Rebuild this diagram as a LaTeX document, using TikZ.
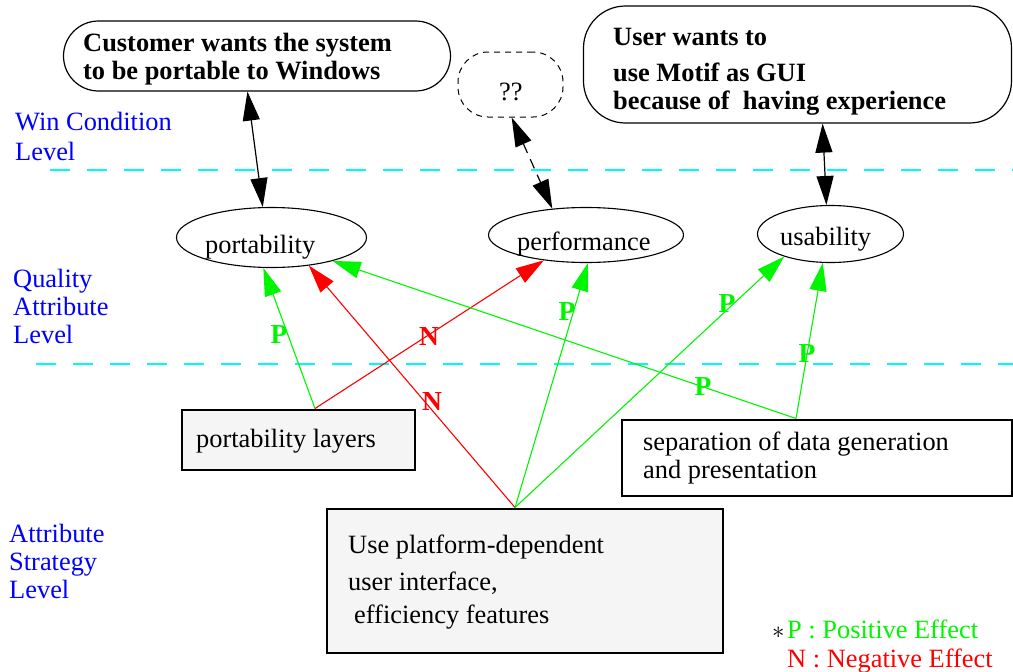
\documentclass[tikz,border=0pt]{standalone}
\usepackage{fontspec}
\setmainfont{Liberation Serif}
\usetikzlibrary{arrows.meta,shapes.geometric}
\definecolor{pgreen}{RGB}{0,245,0}
\definecolor{nred}{RGB}{255,0,0}
\definecolor{lvlblue}{RGB}{0,0,255}
\definecolor{lcyan}{RGB}{0,250,250}
\definecolor{boxgray}{RGB}{245,245,245}
\begin{document}
\begin{tikzpicture}[x=1pt,y=-1pt,
  txt/.style={font=\fontsize{26.4}{28}\selectfont, inner sep=0pt, anchor=base west, align=left},
  btxt/.style={font=\fontsize{26.4}{28}\selectfont\bfseries, inner sep=0pt, anchor=base west, align=left},
  lvl/.style={txt, text=lvlblue},
  lab/.style={font=\fontsize{27.5}{28}\selectfont\bfseries, inner sep=0pt},
  rbox/.style={draw, line width=1.2pt, inner sep=0pt},
  sbox/.style={draw, line width=2pt, inner sep=0pt},
  ell/.style={ellipse, draw, line width=1.1pt, inner sep=0pt},
  levelline/.style={lcyan, line width=2.5pt, dash pattern=on 20pt off 17pt},
  barr/.style={line width=1.2pt, {Triangle[length=29pt,width=17pt]}-{Triangle[length=29pt,width=17pt]}},
  parr/.style={pgreen, line width=1.1pt, -{Triangle[length=28pt,width=17pt]}},
  narr/.style={nred, line width=1.1pt, -{Triangle[length=28pt,width=17pt]}}
]
\useasboundingbox (0,0) rectangle (1013,672);

% level separators
\coordinate (l1a) at (50,170);
\coordinate (l1b) at (1013,170);
\coordinate (l2a) at (36,364);
\coordinate (l2b) at (1013,364);
\draw[levelline] (l1a) -- (l1b);
\draw[levelline] (l2a) -- (l2b);

% level labels (anchored at the baseline of the last line)
\node[lvl] (wl) at (15,160) {Win Condition\\[2pt]Level};
\node[lvl] (ql) at (13,343) {Quality\\Attribute\\Level};
\node[lvl] (sl) at (9,598) {Attribute\\Strategy\\Level};

% win conditions
\node[rbox, minimum width=387pt, minimum height=70pt, rounded corners=35pt] (cust) at (257,56) {};
\node[btxt] (custt) at (83,79) {Customer wants the system\\to be portable to Windows};
\node[rbox, minimum width=428pt, minimum height=117pt, rounded corners=42pt] (user) at (797.5,64.5) {};
\node[btxt] (usert) at (613,109) {User wants to\\[8pt]use Motif as GUI\\because of~ having experience};
\node[draw, line width=1pt, dash pattern=on 6pt off 5pt, rounded corners=30pt, minimum width=105pt, minimum height=65pt, inner sep=0pt] (qq) at (510.5,84.5) {};
\node[txt] (qqt) at (499,100) {??};

% quality attributes
\node[ell, minimum width=190pt, minimum height=60pt] (port) at (271.5,237.5) {};
\node[txt] (portt) at (205,253) {portability};
\node[ell, minimum width=195pt, minimum height=55pt] (perf) at (586,235) {};
\node[txt] (perft) at (517,250) {performance};
\node[ell, minimum width=146pt, minimum height=57pt] (usab) at (830.5,234) {};
\node[txt] (usabt) at (780,245) {usability};

% strategies
\node[sbox, fill=boxgray, minimum width=233pt, minimum height=60pt] (lay) at (298,439.5) {};
\node[txt] (layt) at (196,447) {portability layers};
\node[sbox, fill=white, minimum width=390pt, minimum height=76pt] (sep) at (817,457.5) {};
\node[txt] (sept) at (643,478) {separation of data generation\\and presentation};
\node[sbox, fill=boxgray, minimum width=396pt, minimum height=144pt] (use) at (524.5,580.5) {};
\node[txt] (uset) at (348,623) {Use platform-dependent\\[9pt]user interface,\\[5pt]\hspace*{6pt}efficiency features};

\coordinate (layTop) at ([xshift=17pt]lay.north);
\coordinate (sepTop) at ([xshift=-21pt]sep.north);
\coordinate (useTop) at ([xshift=-9.5pt]use.north);

% win condition <-> attribute
\draw[barr] (cust.-105) -- (port.106);
\draw[barr, dash pattern=on 10pt off 7pt] (qq.-88) -- (perf.142);
\draw[barr] (user.-67) -- (usab.98);

% effects
\draw[parr] (layTop) -- (port.-105);
\draw[narr] (layTop) -- (perf.-149);
\draw[narr] (useTop) -- (port.-37);
\draw[parr] (useTop) -- (perf.-86);
\draw[parr] (useTop) -- (usab.-154);
\draw[parr] (sepTop) -- (port.-21);
\draw[parr] (sepTop) -- (usab.-105);

\node[lab, text=pgreen] (p1) at (279,334) {P};
\node[lab, text=nred] (n1) at (429,336) {N};
\node[lab, text=nred] (n2) at (432,401) {N};
\node[lab, text=pgreen] (p2) at (567,311) {P};
\node[lab, text=pgreen] (p3) at (727,303) {P};
\node[lab, text=pgreen] (p4) at (703,386) {P};
\node[lab, text=pgreen] (p5) at (807,353) {P};

% legend
\node[txt] (star) at (772,638) {$\ast$};
\node[txt, text=pgreen] (legp) at (787,638) {P : Positive Effect};
\node[txt, text=nred] (legn) at (787,667) {N : Negative Effect};
\end{tikzpicture}
\end{document}
